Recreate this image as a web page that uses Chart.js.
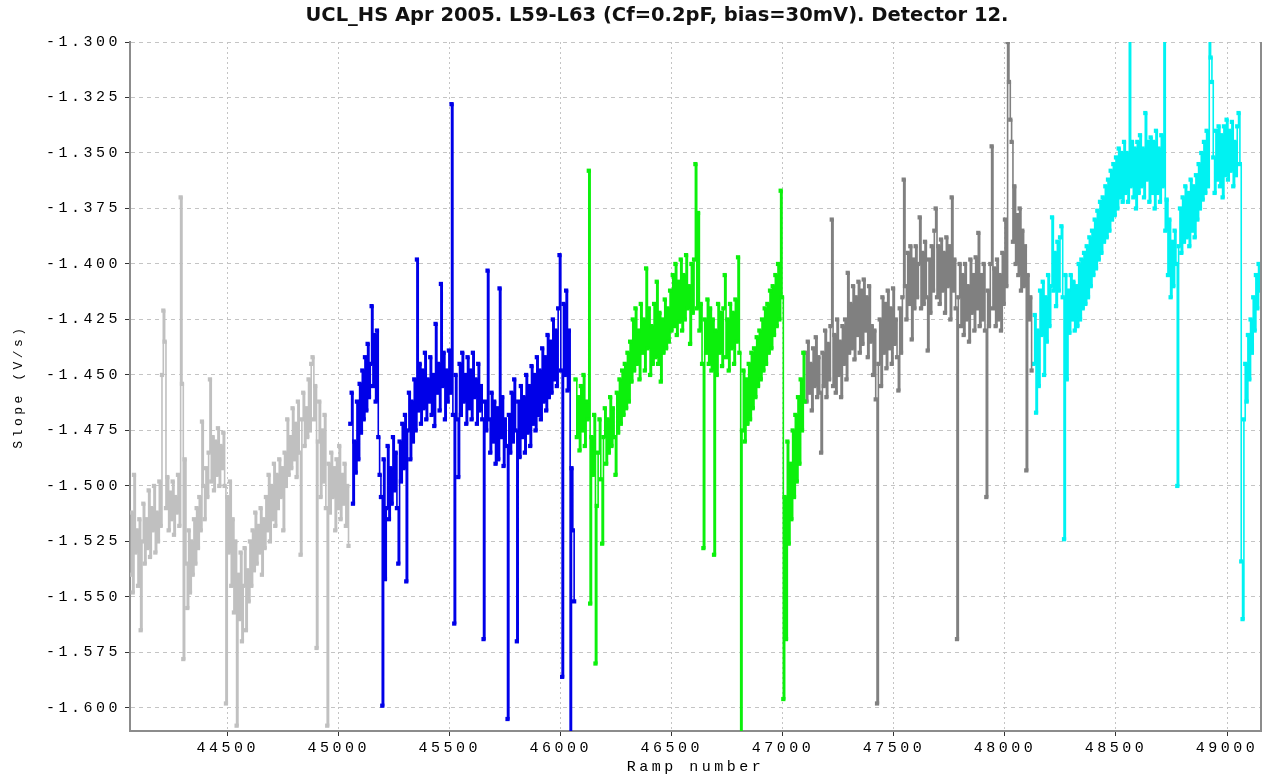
<!DOCTYPE html>
<html>
<head>
<meta charset="utf-8">
<title>Detector 12 slope</title>
<script src="https://cdn.jsdelivr.net/npm/chart.js@4"></script>
<style>
  body { margin: 0; background: #fff; }
  canvas { display: block; }
</style>
</head>
<body>
<canvas id="slopeChart" width="1270" height="779"></canvas>
<script>
// values, one point every 6 ramps
const rampStep = 6;
const seriesStart = [44060, 45052, 46066, 47100, 48128];
const seriesColors = ['#c0c0c0', '#0000e8', '#0cf00c', '#808080', '#00f2f2'];

const slopeL59 = [
  -1.540, -1.512, -1.548, -1.495, -1.530, -1.520, -1.545, -1.515, -1.565, -1.525,
  -1.508, -1.535, -1.515, -1.528, -1.502, -1.532, -1.510, -1.520, -1.500, -1.530,
  -1.512, -1.525, -1.498, -1.518, -1.450, -1.421, -1.435, -1.510, -1.496, -1.520,
  -1.503, -1.515, -1.498, -1.522, -1.505, -1.512, -1.495, -1.518, -1.370, -1.454,
  -1.578, -1.488, -1.535, -1.555, -1.520, -1.548, -1.525, -1.540, -1.515, -1.535,
  -1.510, -1.528, -1.505, -1.520, -1.471, -1.500, -1.515, -1.492, -1.505, -1.485,
  -1.452, -1.498, -1.478, -1.502, -1.480, -1.495, -1.474, -1.500, -1.482, -1.492,
  -1.476, -1.500, -1.598, -1.505, -1.530, -1.498, -1.545, -1.515, -1.557, -1.525,
  -1.608, -1.540, -1.560, -1.530, -1.570, -1.545, -1.528, -1.565, -1.538, -1.552,
  -1.525, -1.545, -1.520, -1.538, -1.512, -1.535, -1.518, -1.530, -1.510, -1.540,
  -1.515, -1.528, -1.505, -1.520, -1.495, -1.525, -1.500, -1.515, -1.490, -1.518,
  -1.495, -1.510, -1.488, -1.505, -1.492, -1.520, -1.485, -1.500, -1.470, -1.495,
  -1.478, -1.492, -1.465, -1.488, -1.472, -1.496, -1.462, -1.485, -1.531, -1.470,
  -1.458, -1.482, -1.465, -1.478, -1.452, -1.475, -1.445, -1.442, -1.470, -1.455,
  -1.573, -1.480, -1.462, -1.505, -1.475, -1.498, -1.468, -1.510, -1.608, -1.490,
  -1.512, -1.485, -1.505, -1.492, -1.520, -1.488, -1.510, -1.482, -1.515, -1.495,
  -1.508, -1.490, -1.518, -1.500, -1.527
];
const slopeL60 = [
  -1.472, -1.458, -1.508, -1.480, -1.494, -1.462, -1.488, -1.454, -1.476, -1.448,
  -1.470, -1.442, -1.466, -1.436, -1.460, -1.445, -1.419, -1.455, -1.432, -1.462,
  -1.430, -1.478, -1.495, -1.505, -1.599, -1.488, -1.542, -1.510, -1.482, -1.515,
  -1.492, -1.508, -1.478, -1.502, -1.485, -1.510, -1.535, -1.480, -1.498, -1.472,
  -1.492, -1.468, -1.543, -1.475, -1.458, -1.488, -1.462, -1.480, -1.452, -1.475,
  -1.398, -1.466, -1.445, -1.472, -1.448, -1.465, -1.440, -1.470, -1.452, -1.462,
  -1.442, -1.468, -1.450, -1.473, -1.427, -1.458, -1.445, -1.466, -1.409, -1.455,
  -1.440, -1.470, -1.448, -1.462, -1.439, -1.458, -1.328, -1.468, -1.562, -1.450,
  -1.470, -1.496, -1.445, -1.468, -1.440, -1.462, -1.450, -1.472, -1.442, -1.465,
  -1.448, -1.470, -1.440, -1.460, -1.452, -1.472, -1.445, -1.466, -1.455, -1.470,
  -1.569, -1.462, -1.475, -1.403, -1.470, -1.485, -1.458, -1.480, -1.462, -1.490,
  -1.465, -1.488, -1.411, -1.478, -1.460, -1.491, -1.470, -1.482, -1.605, -1.468,
  -1.485, -1.458, -1.480, -1.452, -1.475, -1.570, -1.462, -1.487, -1.455, -1.478,
  -1.460, -1.485, -1.450, -1.476, -1.455, -1.482, -1.446, -1.472, -1.450, -1.475,
  -1.442, -1.468, -1.448, -1.470, -1.438, -1.462, -1.442, -1.466, -1.432, -1.460,
  -1.435, -1.458, -1.425, -1.452, -1.430, -1.455, -1.420, -1.396, -1.448, -1.586,
  -1.418, -1.450, -1.412, -1.457, -1.430, -1.620, -1.492, -1.520, -1.552
];
const slopeL61 = [
  -1.452, -1.478, -1.460, -1.484, -1.455, -1.475, -1.450, -1.482, -1.462, -1.470,
  -1.358, -1.553, -1.478, -1.495, -1.468, -1.580, -1.509, -1.485, -1.470, -1.497,
  -1.526, -1.478, -1.465, -1.490, -1.470, -1.485, -1.460, -1.482, -1.465, -1.478,
  -1.495, -1.458, -1.476, -1.452, -1.472, -1.448, -1.468, -1.445, -1.465, -1.440,
  -1.462, -1.435, -1.453, -1.425, -1.448, -1.420, -1.445, -1.430, -1.452, -1.418,
  -1.440, -1.425, -1.448, -1.402, -1.438, -1.420, -1.450, -1.428, -1.445, -1.418,
  -1.442, -1.408, -1.445, -1.422, -1.453, -1.425, -1.440, -1.416, -1.438, -1.420,
  -1.435, -1.412, -1.430, -1.405, -1.428, -1.400, -1.432, -1.408, -1.426, -1.398,
  -1.430, -1.405, -1.425, -1.396, -1.420, -1.410, -1.436, -1.400, -1.422, -1.398,
  -1.355, -1.420, -1.377, -1.430, -1.418, -1.445, -1.528, -1.425, -1.440, -1.416,
  -1.445, -1.420, -1.448, -1.425, -1.531, -1.430, -1.450, -1.418, -1.440, -1.422,
  -1.446, -1.420, -1.405, -1.442, -1.425, -1.448, -1.418, -1.438, -1.422, -1.445,
  -1.416, -1.435, -1.397, -1.440, -1.620, -1.475, -1.448, -1.480, -1.452, -1.472,
  -1.445, -1.470, -1.440, -1.465, -1.438, -1.460, -1.433, -1.455, -1.430, -1.452,
  -1.425, -1.448, -1.420, -1.445, -1.418, -1.440, -1.412, -1.438, -1.410, -1.432,
  -1.405, -1.428, -1.400, -1.425, -1.367, -1.415, -1.596, -1.505, -1.569, -1.480,
  -1.526, -1.490, -1.515, -1.475, -1.505, -1.468, -1.498, -1.460, -1.490, -1.452,
  -1.475, -1.440, -1.462
];
const slopeL62 = [
  -1.440, -1.462, -1.435, -1.458, -1.445, -1.466, -1.438, -1.455, -1.433, -1.460,
  -1.442, -1.458, -1.485, -1.440, -1.455, -1.430, -1.460, -1.436, -1.452, -1.428,
  -1.380, -1.455, -1.432, -1.458, -1.425, -1.450, -1.435, -1.460, -1.428, -1.445,
  -1.425, -1.452, -1.404, -1.440, -1.418, -1.438, -1.410, -1.443, -1.415, -1.432,
  -1.408, -1.440, -1.412, -1.436, -1.407, -1.430, -1.415, -1.442, -1.410, -1.435,
  -1.428, -1.450, -1.430, -1.461, -1.598, -1.445, -1.425, -1.455, -1.415, -1.440,
  -1.418, -1.447, -1.412, -1.438, -1.420, -1.445, -1.411, -1.436, -1.425, -1.442,
  -1.457, -1.420, -1.440, -1.415, -1.362, -1.410, -1.425, -1.395, -1.418, -1.392,
  -1.434, -1.398, -1.420, -1.392, -1.415, -1.400, -1.379, -1.420, -1.395, -1.418,
  -1.390, -1.415, -1.439, -1.398, -1.422, -1.392, -1.412, -1.385, -1.375, -1.415,
  -1.392, -1.418, -1.389, -1.412, -1.395, -1.422, -1.388, -1.410, -1.392, -1.425,
  -1.370, -1.412, -1.398, -1.420, -1.569, -1.415, -1.400, -1.428, -1.405, -1.432,
  -1.400, -1.425, -1.410, -1.435, -1.398, -1.422, -1.405, -1.430, -1.397, -1.420,
  -1.386, -1.428, -1.405, -1.425, -1.400, -1.430, -1.505, -1.412, -1.428, -1.400,
  -1.347, -1.420, -1.402, -1.428, -1.398, -1.425, -1.405, -1.430, -1.395, -1.418,
  -1.380, -1.410, -1.300, -1.318, -1.335, -1.345, -1.390, -1.365, -1.400, -1.378,
  -1.405, -1.375, -1.412, -1.385, -1.410, -1.392, -1.493, -1.405, -1.425, -1.415,
  -1.448
];
const slopeL63 = [
  -1.445, -1.423, -1.467, -1.430, -1.455, -1.412, -1.432, -1.408, -1.450, -1.415,
  -1.435, -1.405, -1.428, -1.410, -1.379, -1.412, -1.395, -1.419, -1.390, -1.412,
  -1.388, -1.383, -1.415, -1.524, -1.405, -1.452, -1.412, -1.431, -1.405, -1.425,
  -1.408, -1.430, -1.410, -1.428, -1.400, -1.425, -1.398, -1.420, -1.395, -1.418,
  -1.392, -1.415, -1.388, -1.410, -1.385, -1.405, -1.380, -1.402, -1.376, -1.398,
  -1.372, -1.395, -1.370, -1.390, -1.365, -1.388, -1.362, -1.385, -1.358, -1.380,
  -1.355, -1.378, -1.352, -1.375, -1.348, -1.370, -1.350, -1.372, -1.345, -1.368,
  -1.350, -1.372, -1.290, -1.365, -1.345, -1.370, -1.348, -1.375, -1.345, -1.368,
  -1.342, -1.365, -1.348, -1.370, -1.332, -1.362, -1.345, -1.372, -1.343, -1.368,
  -1.345, -1.375, -1.340, -1.368, -1.348, -1.372, -1.342, -1.365, -1.290, -1.385,
  -1.371, -1.405, -1.380, -1.415, -1.390, -1.410, -1.385, -1.400, -1.500, -1.392,
  -1.375, -1.395, -1.370, -1.390, -1.365, -1.388, -1.368, -1.392, -1.362, -1.385,
  -1.365, -1.388, -1.360, -1.380, -1.355, -1.375, -1.350, -1.371, -1.345, -1.368,
  -1.340, -1.365, -1.290, -1.307, -1.318, -1.352, -1.368, -1.340, -1.362, -1.338,
  -1.365, -1.342, -1.370, -1.338, -1.360, -1.335, -1.362, -1.340, -1.358, -1.336,
  -1.365, -1.345, -1.360, -1.338, -1.332, -1.355, -1.534, -1.560, -1.470, -1.445,
  -1.462, -1.432, -1.452, -1.425, -1.440, -1.415, -1.430, -1.405, -1.420, -1.400,
  -1.412
];

const xTicks = [44500, 45000, 45500, 46000, 46500, 47000, 47500, 48000, 48500, 49000];
const yTicks = [-1.600, -1.575, -1.550, -1.525, -1.500, -1.475, -1.450, -1.425, -1.400, -1.375, -1.350, -1.325, -1.300];

const chartTitle = 'UCL_HS Apr 2005. L59-L63 (Cf=0.2pF, bias=30mV). Detector 12.';

const allSeries = [slopeL59, slopeL60, slopeL61, slopeL62, slopeL63];

const datasets = allSeries.map((vals, k) => ({
  data: vals.map((v, i) => ({ x: seriesStart[k] + i * rampStep, y: v })),
  borderColor: seriesColors[k],
  backgroundColor: seriesColors[k],
  pointBackgroundColor: seriesColors[k],
  borderWidth: 1.6,
  stepped: true,
  pointStyle: 'rect',
  pointRadius: 3,
  pointBorderWidth: 0,
  pointHoverRadius: 3
}));

const monoFont = { family: '"Liberation Mono", monospace', size: 15 };

// spaced-out mono lettering for axes, plain title, and right frame line
const framePlugin = {
  id: 'frame',
  beforeDraw(chart) {
    chart.ctx.letterSpacing = '3.5px';
  },
  afterDraw(chart) {
    const ctx = chart.ctx;
    const a = chart.chartArea;
    ctx.save();
    ctx.strokeStyle = '#8c8c8c';
    ctx.lineWidth = 2;
    ctx.beginPath();
    ctx.moveTo(a.right, a.top);
    ctx.lineTo(a.right, a.bottom);
    ctx.stroke();
    ctx.letterSpacing = '0px';
    ctx.fillStyle = '#111';
    ctx.font = 'bold 19.5px "DejaVu Sans", sans-serif';
    ctx.textAlign = 'center';
    ctx.textBaseline = 'middle';
    ctx.fillText(chartTitle, 657, 16);
    ctx.restore();
  }
};

new Chart(document.getElementById('slopeChart'), {
  type: 'line',
  data: { datasets: datasets },
  plugins: [framePlugin],
  options: {
    responsive: false,
    animation: false,
    layout: { padding: { top: 42, right: 9, left: 0, bottom: 0 } },
    plugins: {
      legend: { display: false },
      title: { display: false },
      tooltip: { enabled: false }
    },
    scales: {
      x: {
        type: 'linear',
        min: 44060,
        max: 49153,
        afterBuildTicks: s => { s.ticks = xTicks.map(v => ({ value: v })); },
        afterFit: s => { s.height = 48; },
        ticks: {
          autoSkip: false,
          maxRotation: 0,
          padding: 3,
          color: '#000',
          font: monoFont,
          callback: v => String(v)
        },
        grid: {
          color: '#c4c4c4',
          tickColor: '#333',
          tickLength: 5,
          lineWidth: 1
        },
        border: { color: '#8c8c8c', width: 2, dash: [2, 3] },
        title: {
          display: true,
          text: 'Ramp number',
          color: '#000',
          font: monoFont,
          padding: { top: 0, bottom: 3 }
        }
      },
      y: {
        type: 'linear',
        min: -1.6104,
        max: -1.300,
        afterBuildTicks: s => { s.ticks = yTicks.map(v => ({ value: v })); },
        afterFit: s => { s.width = 130; },
        ticks: {
          padding: 4,
          color: '#000',
          font: monoFont,
          callback: v => v.toFixed(3)
        },
        grid: {
          color: '#c4c4c4',
          tickColor: '#333',
          tickLength: 5,
          lineWidth: 1
        },
        border: { color: '#8c8c8c', width: 2, dash: [4, 4] },
        title: {
          display: true,
          text: 'Slope (V/s)',
          color: '#000',
          font: { family: '"Liberation Mono", monospace', size: 13 },
          padding: { top: 11, bottom: 0 }
        }
      }
    }
  }
});
</script>
</body>
</html>
